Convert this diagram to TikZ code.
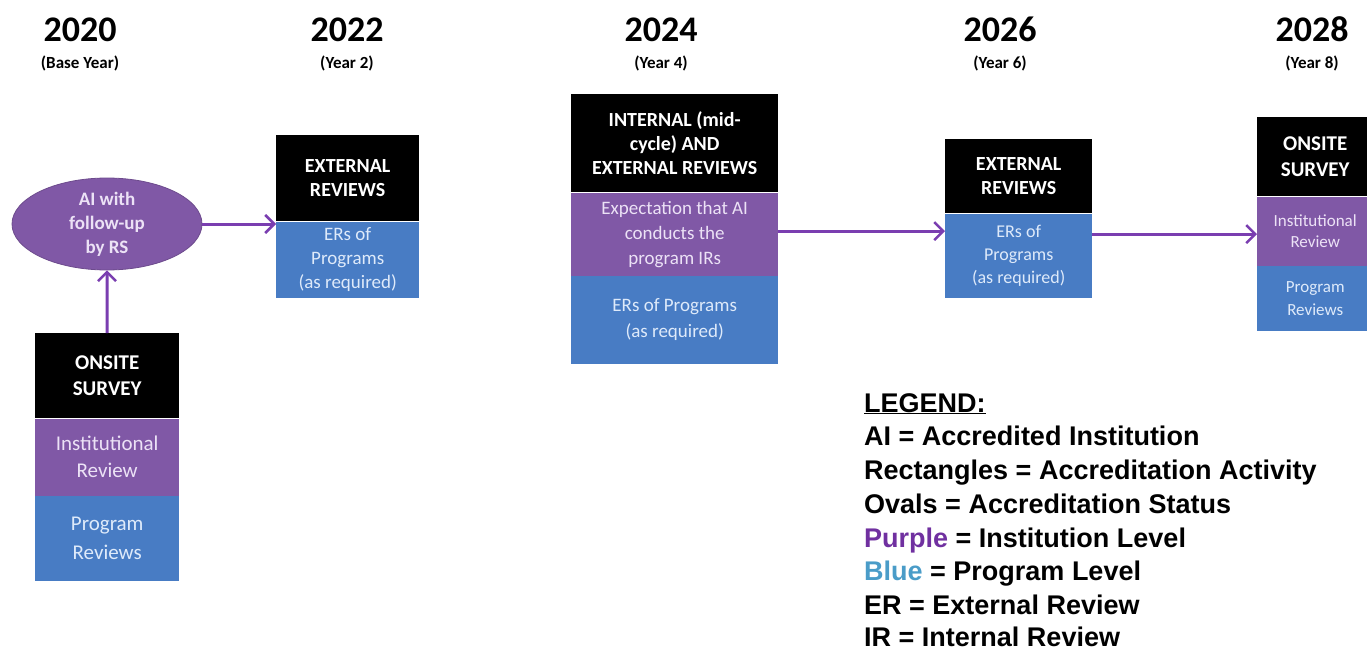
\documentclass[tikz,border=0pt]{standalone}
\usepackage{fontspec}
\setmainfont{Carlito}
\newfontfamily\legendfont{Liberation Sans}
\usetikzlibrary{arrows.meta,shapes.geometric}

\definecolor{instpurple}{RGB}{128,88,166}
\definecolor{progblue}{RGB}{72,124,196}
\definecolor{linkpurple}{RGB}{122,62,176}
\definecolor{insttext}{RGB}{236,226,246}
\definecolor{progtext}{RGB}{222,234,250}
\definecolor{legpurple}{RGB}{112,48,160}
\definecolor{legblue}{RGB}{74,156,200}

\tikzset{
  part/.style={inner sep=0pt, anchor=north west, align=center},
  head/.style={part, fill=black, text=white, font=\bfseries\fontsize{20}{24}\selectfont},
  inst/.style={part, fill=instpurple, text=insttext, font=\fontsize{19}{25}\selectfont},
  prog/.style={part, fill=progblue, text=progtext, font=\fontsize{19}{24}\selectfont},
  yearlbl/.style={anchor=base, inner sep=0pt, font=\bfseries\fontsize{36}{40}\selectfont},
  yearsub/.style={anchor=base, inner sep=0pt, font=\bfseries\fontsize{17}{20}\selectfont},
  legline/.style={anchor=base west, inner sep=0pt, font=\legendfont\bfseries\fontsize{27}{32}\selectfont},
  link/.style={draw=linkpurple, line width=3pt, -{Straight Barb[length=9pt,width=18pt,line width=2.5pt]}}
}

\begin{document}
\begin{tikzpicture}[x=1pt,y=-1pt]
\useasboundingbox (0,0) rectangle (1367,650);

% ---- years along the top ----
\node[yearlbl] (y20) at (80,42) {2020};
\node[yearsub] (s20) at (80,69) {(Base Year)};
\node[yearlbl] (y22) at (347,42) {2022};
\node[yearsub] (s22) at (347,69) {(Year 2)};
\node[yearlbl] (y24) at (661,42) {2024};
\node[yearsub] (s24) at (661,69) {(Year 4)};
\node[yearlbl] (y26) at (1000,42) {2026};
\node[yearsub] (s26) at (1000,69) {(Year 6)};
\node[yearlbl] (y28) at (1312,42) {2028};
\node[yearsub] (s28) at (1312,69) {(Year 8)};

% ---- 2020: status oval and onsite survey ----
\node[ellipse, fill=instpurple, draw=instpurple!85!black, line width=0.8pt,
      minimum width=190pt, minimum height=92pt, inner sep=0pt, align=center,
      text=insttext, font=\bfseries\fontsize{19}{24}\selectfont] (ell) at (107,224)
      {AI with\\follow-up\\by RS};

\node[head, minimum width=144pt, minimum height=85pt, font=\bfseries\fontsize{21}{26}\selectfont] (b20h) at (35,333) {ONSITE\\SURVEY};
\node[inst, minimum width=144pt, minimum height=77pt, font=\fontsize{21}{27}\selectfont] (b20i) at (b20h.south west) {Institutional\\Review};
\node[prog, minimum width=144pt, minimum height=85pt, font=\fontsize{21}{29}\selectfont] (b20p) at (b20i.south west) {Program\\Reviews};

% ---- 2022: external reviews ----
\node[head, minimum width=143pt, minimum height=86pt] (b22h) at (276,135) {EXTERNAL\\REVIEWS};
\node[prog, minimum width=143pt, minimum height=76pt] (b22p) at (b22h.south west) {ERs of\\Programs\\(as required)};

% ---- 2024: internal and external reviews ----
\node[head, minimum width=207pt, minimum height=98pt] (b24h) at (571,94) {INTERNAL (mid-\\cycle) AND\\EXTERNAL REVIEWS};
\node[inst, minimum width=207pt, minimum height=83pt] (b24i) at (b24h.south west) {Expectation that AI\\conducts the\\program IRs};
\node[prog, minimum width=207pt, minimum height=88pt, font=\fontsize{19}{26}\selectfont] (b24p) at (b24i.south west) {ERs of Programs\\(as required)};

% ---- 2026: external reviews ----
\node[head, minimum width=147pt, minimum height=74pt] (b26h) at (945,139) {EXTERNAL\\REVIEWS};
\node[prog, minimum width=147pt, minimum height=84pt, font=\fontsize{18}{23}\selectfont] (b26p) at (b26h.south west) {ERs of\\Programs\\(as required)};

% ---- 2028: onsite survey ----
\node[head, minimum width=116pt, minimum height=79pt, font=\bfseries\fontsize{21}{26}\selectfont] (b28h) at (1257,117) {ONSITE\\SURVEY};
\node[inst, minimum width=116pt, minimum height=69pt, font=\fontsize{17}{21}\selectfont] (b28i) at (b28h.south west) {Institutional\\Review};
\node[prog, minimum width=116pt, minimum height=65pt, font=\fontsize{17}{23}\selectfont] (b28p) at (b28i.south west) {Program\\Reviews};

% ---- connectors ----
\draw[link] (b20h.north) -- (ell.south);
\draw[link] (ell.east) -- (ell.east -| b22p.west);
\draw[link] ([yshift=3pt]b24i.east) -- ([yshift=3pt]b24i.east -| b26p.west);
\draw[link] ([yshift=-3pt]b28i.west -| b26p.east) -- ([yshift=-3pt]b28i.west);

% ---- legend ----
\node[legline] (leg0) at (864,412) {\underline{LEGEND:}};
\node[legline] (leg1) at (864,445) {AI = Accredited Institution};
\node[legline] (leg2) at (864,479) {Rectangles = Accreditation Activity};
\node[legline] (leg3) at (864,513) {Ovals = Accreditation Status};
\node[legline] (leg4) at (864,547) {\textcolor{legpurple}{Purple} = Institution Level};
\node[legline] (leg5) at (864,580) {\textcolor{legblue}{Blue} = Program Level};
\node[legline] (leg6) at (864,614) {ER = External Review};
\node[legline] (leg7) at (864,646) {IR = Internal Review};
\end{tikzpicture}
\end{document}
